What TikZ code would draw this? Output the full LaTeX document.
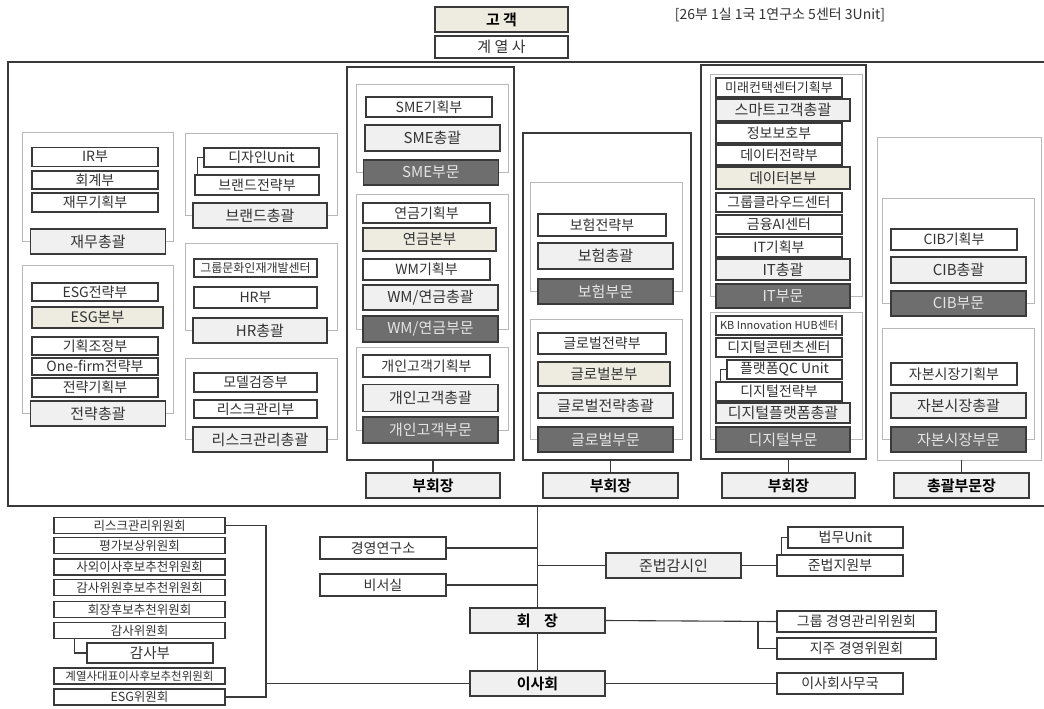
\documentclass[tikz,border=0pt]{standalone}
\usepackage{fontspec}
\setmainfont{Noto Sans CJK KR}[BoldFont={Noto Sans CJK KR Bold}]
\usepackage{tikz}
\usetikzlibrary{positioning,calc}
\definecolor{edge}{HTML}{3A3A3A}
\definecolor{panelgray}{HTML}{B8B8B8}
\definecolor{lightfill}{HTML}{F0F0F0}
\definecolor{beige}{HTML}{EEEBE0}
\definecolor{darkfill}{HTML}{6E6E6E}
\tikzset{
  base/.style={draw=edge, line width=1.1pt, inner sep=0pt, align=center, text=black!80, font=\fontsize{14}{15}\selectfont},
  wbox/.style={base, fill=white, minimum width=126pt, minimum height=20pt},
  tbox/.style={base, fill=lightfill, minimum width=135pt, minimum height=25pt, font=\fontsize{15}{16}\selectfont},
  bbox/.style={base, fill=beige, minimum width=132pt, minimum height=23pt, font=\fontsize{14.5}{15}\selectfont},
  dbox/.style={base, fill=darkfill, minimum width=135pt, minimum height=25pt, text=white!90!black, font=\fontsize{15}{16}\selectfont},
  vbox/.style={tbox, text=black, font=\fontsize{15}{16}\selectfont\bfseries},
  cbox/.style={base, fill=white, minimum width=171pt, minimum height=16pt, font=\fontsize{12.5}{13}\selectfont},
  panel/.style={draw=panelgray, line width=0.8pt},
  frame/.style={draw=edge, line width=1.2pt, inner sep=0pt},
  conn/.style={draw=edge, line width=1.1pt},
}

\begin{document}
\begin{tikzpicture}[x=1pt, y=-1pt]
  \useasboundingbox (0,0) rectangle (1044,709);

  % top
  \node[vbox, fill=beige, minimum width=133pt] (cust) at (501.5,19.5) {고 객};
  \node[wbox, minimum width=133pt, minimum height=22pt, font=\fontsize{15}{16}\selectfont] (affil) at (501.5,47) {계 열 사};
  \node[font=\fontsize{14}{15}\selectfont, text=black!80] (note) at (780,15) {[26부 1실 1국 1연구소 5센터 3Unit]};
  \draw[frame, line width=1.5pt] (8,62) rectangle (1050,506);

  % staff groups
  \draw[panel] (22,132) rectangle (173,241.5);
  \node[wbox, minimum height=19pt] (ir) at (95,157) {IR부};
  \node[wbox, minimum height=18pt] (acct) at (95,180) {회계부};
  \node[wbox, minimum height=19pt] (finplan) at (95,202.5) {재무기획부};
  \node[tbox] (finhq) at (98,241.5) {재무총괄};

  \draw[panel] (22,265) rectangle (173,413.5);
  \node[wbox, minimum height=18pt] (esgplan) at (95,292) {ESG전략부};
  \node[bbox, minimum width=131pt, minimum height=21pt] (esghq) at (97.5,317.5) {ESG본부};
  \node[wbox, minimum height=18pt] (coord) at (95,346) {기획조정부};
  \node[wbox, minimum height=17pt] (onefirm) at (95,366.5) {One-firm전략부};
  \node[wbox, minimum height=19pt] (stratplan) at (95,387.5) {전략기획부};
  \node[tbox] (strathq) at (98,413.5) {전략총괄};

  \draw[panel] (185,133) rectangle (337,215.5);
  \node[wbox, minimum width=115pt, minimum height=19pt] (design) at (261.5,157.5) {디자인Unit};
  \node[wbox, minimum width=124pt] (brand) at (257,185) {브랜드전략부};
  \node[tbox, minimum width=134pt] (brandhq) at (260,215.5) {브랜드총괄};
  \draw[conn] ([xshift=3pt]brand.north west) |- (design.west);

  \draw[panel] (185,243) rectangle (337,330.5);
  \node[wbox, minimum width=123pt, minimum height=18pt, font=\fontsize{12}{13}\selectfont] (culture) at (255.5,268) {그룹문화인재개발센터};
  \node[wbox, minimum width=123pt, minimum height=21pt] (hr) at (255.5,297.5) {HR부};
  \node[tbox, minimum width=134pt] (hrhq) at (260,330.5) {HR총괄};

  \draw[panel] (185,358) rectangle (337,439.5);
  \node[wbox, minimum width=123pt, minimum height=19pt] (model) at (255.5,382.5) {모델검증부};
  \node[wbox, minimum width=123pt, minimum height=18pt] (risk) at (255.5,409) {리스크관리부};
  \node[tbox, minimum width=134pt] (riskhq) at (260,439.5) {리스크관리총괄};

  % SME / WM / retail
  \node[frame, minimum width=167pt, minimum height=393pt] (fr1) at (430.5,263.5) {};
  \draw[panel] (356,84) rectangle (508,172.5);
  \node[wbox] (smeplan) at (429,107) {SME기획부};
  \node[tbox, minimum height=26pt] (smehq) at (432.5,138) {SME총괄};
  \node[dbox] (smediv) at (431,172.5) {SME부문};

  \draw[panel] (356,194) rectangle (508,329);
  \node[wbox, minimum width=127pt] (penplan) at (426.5,213) {연금기획부};
  \node[bbox, minimum width=133pt] (penhq) at (429.5,239.5) {연금본부};
  \node[wbox, minimum width=127pt, minimum height=21pt] (wmplan) at (426.5,269.5) {WM기획부};
  \node[tbox] (wmhq) at (430.5,297.5) {WM/연금총괄};
  \node[dbox, minimum height=26pt] (wmdiv) at (430.5,329) {WM/연금부문};

  \draw[panel] (356,347) rectangle (508,430);
  \node[wbox, minimum width=127pt, minimum height=22pt] (retplan) at (426.5,366) {개인고객기획부};
  \node[tbox, minimum height=27pt] (rethq) at (430.5,398) {개인고객총괄};
  \node[dbox, minimum height=26pt] (retdiv) at (430.5,430) {개인고객부문};
  \node[vbox, minimum width=134pt] (vp1) at (433,485.5) {부회장};
  \draw[conn] (vp1.north) -- (vp1.north |- fr1.south);

  % insurance / global
  \node[frame, minimum width=168pt, minimum height=327pt] (fr2) at (607,296.5) {};
  \draw[panel] (530,182) rectangle (682,291.5);
  \node[wbox, minimum width=128pt, minimum height=22pt] (insplan) at (602,225) {보험전략부};
  \node[tbox, minimum height=26pt] (inshq) at (605.5,256) {보험총괄};
  \node[dbox] (insdiv) at (605.5,291.5) {보험부문};

  \draw[panel] (530,319) rectangle (682,439.5);
  \node[wbox, minimum width=128pt, minimum height=21pt] (gloplan) at (602,343.5) {글로벌전략부};
  \node[bbox, minimum height=24pt] (glohq) at (604,374) {글로벌본부};
  \node[tbox] (glostrat) at (605.5,405.5) {글로벌전략총괄};
  \node[dbox] (glodiv) at (605.5,439.5) {글로벌부문};
  \node[vbox] (vp2) at (610.5,485.5) {부회장};
  \draw[conn] (vp2.north) -- (vp2.north |- fr2.south);

  % IT / digital
  \node[frame, minimum width=165pt, minimum height=394pt] (fr3) at (783.5,262) {};
  \draw[panel] (710,74) rectangle (862,296);
  \node[wbox, minimum height=19pt, font=\fontsize{13}{14}\selectfont] (mirae) at (779,87.5) {미래컨택센터기획부};
  \node[tbox, minimum width=134pt, minimum height=22pt] (smart) at (783,110) {스마트고객총괄};
  \node[wbox] (infosec) at (779,133) {정보보호부};
  \node[wbox] (dataplan) at (779,155) {데이터전략부};
  \node[bbox, minimum width=134pt, minimum height=22pt] (datahq) at (783,178) {데이터본부};
  \node[wbox, minimum height=19pt] (cloud) at (779,202.5) {그룹클라우드센터};
  \node[wbox, minimum height=19pt] (aictr) at (779,224.5) {금융AI센터};
  \node[wbox] (itplan) at (779,247) {IT기획부};
  \node[tbox, minimum width=134pt, minimum height=21pt] (ithq) at (783,269.5) {IT총괄};
  \node[dbox, minimum width=134pt, minimum height=24pt] (itdiv) at (783,296) {IT부문};

  \draw[panel] (710,312) rectangle (862,439.5);
  \node[wbox, minimum height=19pt, font=\fontsize{11}{12}\selectfont] (kbhub) at (779,325.5) {KB Innovation HUB센터};
  \node[wbox, minimum height=19pt] (content) at (779,347.5) {디지털콘텐츠센터};
  \node[wbox, minimum width=115pt, minimum height=19pt] (qc) at (784.5,369.5) {플랫폼QC Unit};
  \node[wbox, minimum height=19pt] (digplan) at (779,391.5) {디지털전략부};
  \node[tbox, minimum width=134pt, minimum height=20pt] (dighq) at (783,413) {디지털플랫폼총괄};
  \node[dbox, minimum width=134pt] (digdiv) at (783,439.5) {디지털부문};
  \node[vbox, minimum width=133pt] (vp3) at (788.5,485.5) {부회장};
  \draw[conn] ([xshift=5pt]digplan.north west) |- (qc.west);
  \draw[conn] (vp3.north) -- (vp3.north |- fr3.south);

  % CIB / capital markets
  \node[panel, minimum width=164pt, minimum height=323pt] (fr4) at (959,298.5) {};
  \draw[panel] (882,198) rectangle (1034,303.5);
  \node[wbox, minimum height=21pt] (cibplan) at (954,239.5) {CIB기획부};
  \node[tbox, minimum height=26pt] (cibhq) at (958.5,270) {CIB총괄};
  \node[dbox] (cibdiv) at (958.5,303.5) {CIB부문};

  \draw[panel] (882,328) rectangle (1034,439.5);
  \node[wbox, minimum height=22pt] (capplan) at (954,374) {자본시장기획부};
  \node[tbox] (caphq) at (958.5,405.5) {자본시장총괄};
  \node[dbox] (capdiv) at (958.5,439.5) {자본시장부문};
  \node[vbox] (head) at (961.5,485.5) {총괄부문장};
  \draw[conn] (head.north) -- (head.north |- fr4.south);

  % chairman and board
  \coordinate (top) at (537.5,506);
  \node[vbox] (chair) at (537.5,620.5) {회\hspace{0.9em}장};
  \node[vbox] (board) at (537.5,683.5) {이사회};
  \node[wbox, minimum height=22pt] (lab) at (383,548) {경영연구소};
  \node[wbox, minimum height=22pt] (secy) at (383,585) {비서실};
  \node[tbox] (comp) at (673.5,565.5) {준법감시인};
  \node[wbox, minimum width=115pt, minimum height=21pt] (legal) at (845.5,537.5) {법무Unit};
  \node[wbox, minimum height=21pt] (compsup) at (840,565.5) {준법지원부};
  \node[wbox, minimum width=159pt, minimum height=21pt] (gmc) at (856.5,621.5) {그룹 경영관리위원회};
  \node[wbox, minimum width=159pt, minimum height=21pt] (hmc) at (856.5,648.5) {지주 경영위원회};
  \node[wbox, minimum height=21pt] (bsec) at (840,683.5) {이사회사무국};
  \coordinate (br) at (758,621.5);

  \node[cbox] (c1) at (139.5,525.5) {리스크관리위원회};
  \node[cbox] (c2) at (139.5,545.5) {평가보상위원회};
  \node[cbox] (c3) at (139.5,567) {사외이사후보추천위원회};
  \node[cbox] (c4) at (139.5,587.5) {감사위원후보추천위원회};
  \node[cbox] (c5) at (139.5,609.5) {회장후보추천위원회};
  \node[cbox] (c6) at (139.5,630.5) {감사위원회};
  \node[wbox, font=\fontsize{14.5}{15}\selectfont] (audit) at (150,653) {감사부};
  \node[cbox, font=\fontsize{11.5}{12}\selectfont] (c7) at (139.5,676) {계열사대표이사후보추천위원회};
  \node[cbox] (c8) at (139.5,697) {ESG위원회};
  \coordinate (bk) at (266,683.5);

  \draw[conn] (c1.east) -| (bk) |- (c8.east);
  \draw[conn] (bk) -- (board.west);
  \draw[conn] ([xshift=21pt]c6.south west) |- (audit.west);
  \draw[conn] (top) -- (chair.north);
  \draw[conn] (lab.east) -- (lab.east -| top);
  \draw[conn] (secy.east) -- (secy.east -| top);
  \draw[conn] (comp.west -| top) -- (comp.west);
  \draw[conn] (comp.east) -- (compsup.west);
  \draw[conn] ([xshift=5pt]compsup.north west) |- (legal.west);
  \draw[conn] (chair.south) -- (board.north);
  \draw[conn] (chair.east) -- (gmc.west);
  \draw[conn] (br) |- (hmc.west);
  \draw[conn] (board.east) -- (bsec.west);
\end{tikzpicture}
\end{document}
